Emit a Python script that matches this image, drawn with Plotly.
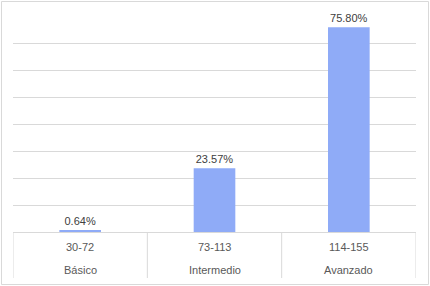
import plotly.graph_objects as go

levels = ["Básico", "Intermedio", "Avanzado"]
ranges = ["30-72", "73-113", "114-155"]
percent = [0.64, 23.57, 75.80]

W, H = 430, 286
L, R, T, B = 13, 14, 16, 54
pw, ph = W - L - R, H - T - B
FONT = "Liberation Sans, Arial"
GRID = "#D9D9D9"

fig = go.Figure(go.Bar(
    x=ranges,
    y=percent,
    marker=dict(color="#8FABF7", line=dict(width=0)),
    width=0.31,
    text=[f"{v:.2f}%" for v in percent],
    textposition="outside",
    textfont=dict(family=FONT, size=11, color="#404040"),
    cliponaxis=False,
    hoverinfo="skip",
))

annotations = []
shapes = []
for i, (rg, lv) in enumerate(zip(ranges, levels)):
    annotations.append(dict(x=rg, y=0, xref="x", yref="y", text=rg, showarrow=False,
                            yanchor="middle", yshift=-15,
                            font=dict(family=FONT, size=11, color="#595959")))
    annotations.append(dict(x=rg, y=0, xref="x", yref="y", text=lv, showarrow=False,
                            yanchor="middle", yshift=-38,
                            font=dict(family=FONT, size=11, color="#595959")))
for k in range(len(ranges) + 1):
    shapes.append(dict(type="line", xref="x", yref="paper",
                       x0=k - 0.5, x1=k - 0.5, y0=0, y1=-(278 - 232) / ph,
                       line=dict(color=GRID, width=1)))
shapes.append(dict(
    type="rect", xref="paper", yref="paper",
    x0=(1.5 - L) / pw, x1=(428.5 - L) / pw,
    y0=(H - B - 284.5) / ph, y1=(H - B - 1.5) / ph,
    line=dict(color=GRID, width=1), fillcolor="rgba(0,0,0,0)",
    layer="below",
))

fig.update_layout(
    width=W, height=H,
    margin=dict(l=L, r=R, t=T, b=B),
    paper_bgcolor="white", plot_bgcolor="white",
    showlegend=False,
    font=dict(family=FONT, size=11, color="#595959"),
    xaxis=dict(
        type="category", range=[-0.5, 2.5],
        showline=True, linecolor=GRID, linewidth=1,
        showticklabels=False, ticks="", showgrid=False,
    ),
    yaxis=dict(
        range=[0, 80], dtick=10,
        showgrid=True, gridcolor=GRID, gridwidth=1,
        showticklabels=False, zeroline=False, ticks="",
    ),
    annotations=annotations,
    shapes=shapes,
)

fig.write_html("out.html", config={"displayModeBar": False},
               post_script="document.body.style.margin='0';document.body.style.overflow='hidden';")
